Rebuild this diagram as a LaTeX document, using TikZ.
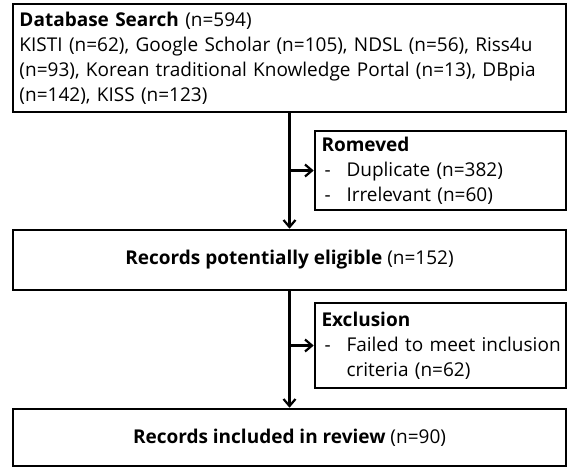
\documentclass[tikz,border=0pt]{standalone}
\usepackage{fontspec}
\setmainfont{Open Sans}
\usetikzlibrary{positioning,arrows.meta}
\newcommand{\itemdash}{\hspace*{7pt}\makebox[22pt][l]{-}}

\begin{document}
\begin{tikzpicture}[x=1pt,y=-1pt,
  box/.style={draw=black,line width=2.6pt,inner sep=0pt,align=left,font=\fontsize{19}{25}\selectfont},
  wide/.style={box,minimum width=553pt},
  side/.style={box,minimum width=251pt,text width=246pt},
  arr/.style={-{Straight Barb[length=7pt,width=12pt]},line width=2.2pt,draw=black}]
  \useasboundingbox (0,0) rectangle (568,467);
  \node[wide,minimum height=108pt,text width=540pt] (search) at (289.5,58) {\textbf{Database Search} (n=594)\\KISTI (n=62), Google Scholar (n=105), NDSL (n=56), Riss4u\\(n=93), Korean traditional Knowledge Portal (n=13), DBpia\\(n=142), KISS (n=123)};
  \node[side,minimum height=79pt] (removed) at (440.5,170.5) {\hspace*{4pt}\textbf{Romeved}\\\itemdash Duplicate (n=382)\\\itemdash Irrelevant (n=60)};
  \node[wide,minimum height=60pt,align=center] (eligible) at (289.5,260) {\textbf{Records potentially eligible} (n=152)};
  \node[side,minimum height=85pt] (exclusion) at (440.5,345.5) {\hspace*{4pt}\textbf{Exclusion}\\\itemdash Failed to meet inclusion\\\hspace*{29pt}criteria (n=62)};
  \node[wide,minimum height=57pt,align=center] (included) at (289.5,437.5) {\textbf{Records included in review} (n=90)};
  \draw[arr] (search)--(eligible);
  \draw[arr] (removed.west -| search)--(removed);
  \draw[arr] (eligible)--(included);
  \draw[arr] (exclusion.west -| eligible)--(exclusion);
\end{tikzpicture}
\end{document}
